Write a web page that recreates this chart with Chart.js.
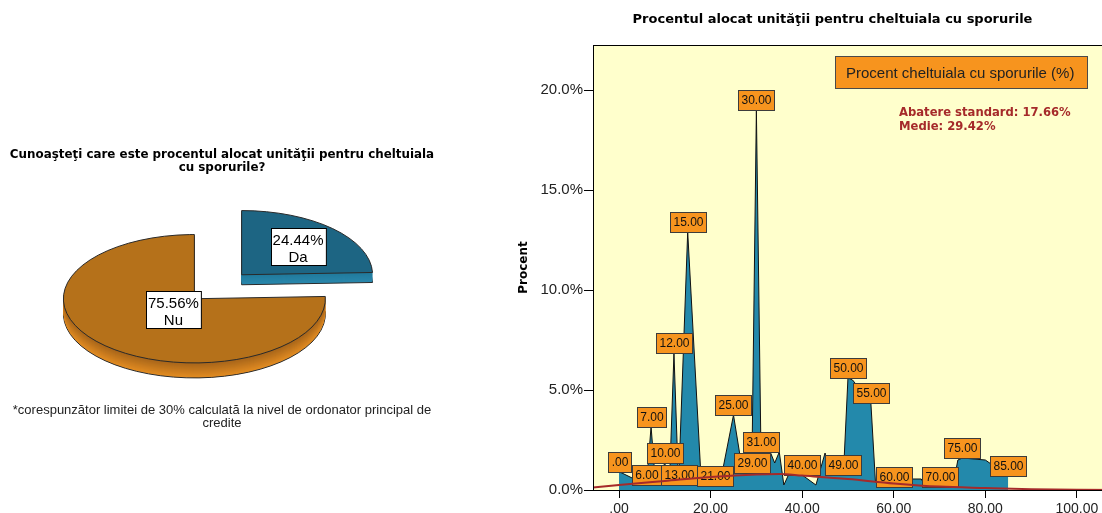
<!DOCTYPE html>
<html><head><meta charset="utf-8">
<script src="https://cdn.jsdelivr.net/npm/chart.js@4.4.1/dist/chart.umd.min.js"></script>
<style>
html,body{margin:0;padding:0;background:#fff;overflow:hidden;width:1102px;height:513px;position:relative;}
#pie{position:absolute;left:0;top:0;}
#area{position:absolute;left:460px;top:0;}
</style></head><body>
<canvas id="pie" width="445" height="513"></canvas>
<canvas id="area" width="745" height="530"></canvas>
<script>
// ---------- data ----------
const pieLabels = ['Da', 'Nu'];
const pieValues = [24.44, 75.56];

const areaX = [0, 6, 7, 8, 10, 11, 12, 13, 15, 18, 19, 20, 21, 22, 25, 27, 29, 30, 31, 33, 34, 35, 36, 39, 40, 43, 45, 46, 49, 50, 51, 55, 56, 60, 64, 66, 67, 70, 73, 74, 75, 80, 85];
const areaY = [0.92, 0.25, 3.17, 0.25, 1.35, 0.25, 6.83, 0.25, 12.9, 0.25, 0.95, 0.25, 0.2, 0.25, 3.75, 0.9, 0.83, 19.0, 1.92, 1.92, 1.35, 1.9, 0.25, 1.75, 0.75, 0.25, 1.85, 0.75, 0.75, 5.6, 5.5, 4.37, 0.4, 0.17, 0.55, 0.55, 0.17, 0.17, 0.3, 1.5, 1.6, 1.5, 0.7];
const labeledX = [0, 6, 7, 10, 12, 13, 15, 21, 25, 29, 30, 31, 40, 49, 50, 55, 60, 70, 75, 85];

const curveX = [-6, 0, 10, 20, 30, 35, 40, 50, 60, 70, 80, 90, 100, 110, 128];
const curveY = [0.12, 0.25, 0.45, 0.65, 0.78, 0.8, 0.72, 0.55, 0.33, 0.17, 0.1, 0.04, 0.01, 0, 0];

const xTicks = [0, 20, 40, 60, 80, 100, 120];
const yTicks = [0, 5, 10, 15, 20];

const seriesName = 'Procent cheltuiala cu sporurile (%)';
const statLines = ['Abatere standard: 17.66%', 'Medie: 29.42%'];
const pieTitle = ['Cunoaşteţi care este procentul alocat unităţii pentru cheltuiala', 'cu sporurile?'];
const pieNote = ['*corespunzător limitei de 30% calculată la nivel de ordonator principal de', 'credite'];
const areaTitle = 'Procentul alocat unităţii pentru cheltuiala cu sporurile';

// ---------- helpers ----------
const FONT = '"Liberation Sans", Arial, Helvetica, sans-serif';
const BOLDFONT = '"DejaVu Sans", Verdana, sans-serif';
Chart.defaults.font.family = FONT;
Chart.defaults.color = '#222';

function mix(a, b, t) {
  const pa = parseInt(a.slice(1), 16), pb = parseInt(b.slice(1), 16);
  const ch = (p, s) => (p >> s) & 255;
  const r = Math.round(ch(pa,16) + (ch(pb,16) - ch(pa,16)) * t);
  const g = Math.round(ch(pa,8) + (ch(pb,8) - ch(pa,8)) * t);
  const bl = Math.round(ch(pa,0) + (ch(pb,0) - ch(pa,0)) * t);
  return `rgb(${r},${g},${bl})`;
}

// ---------- 3D exploded pie ----------
const pie3d = {
  id: 'pie3d',
  _geo(chart, opts) {
    const meta = chart.getDatasetMeta(0);
    const k = opts.squash;
    return meta.data.map((el, i) => {
      const mid = (el.startAngle + el.endAngle) / 2;
      const off = opts.explode[i];
      return { el, i, mid, k,
        ax: el.x + opts.shiftX + Math.cos(mid) * off, ay: el.y + Math.sin(mid) * off * k,
        r: el.outerRadius, ry: el.outerRadius * k, s: el.startAngle, e: el.endAngle };
    });
  },
  beforeDatasetsDraw(chart, args, opts) {
    const ctx = chart.ctx;
    const geo = this._geo(chart, opts);
    const path = (g, dy) => {
      ctx.beginPath();
      ctx.moveTo(g.ax, g.ay + dy);
      ctx.ellipse(g.ax, g.ay + dy, g.r, g.ry, 0, g.s, g.e);
      ctx.closePath();
    };
    ctx.save();
    geo.forEach((g) => {
      const depth = opts.depth[g.i];
      const [c0, c1] = opts.sideColors[g.i];
      path(g, depth);
      ctx.fillStyle = c1; ctx.fill();
      ctx.strokeStyle = opts.edge; ctx.lineWidth = 1; ctx.stroke();
      for (let d = depth - 1; d >= 1; d--) {
        path(g, d);
        ctx.fillStyle = mix(c0, c1, (d - 1) / Math.max(1, depth - 1));
        ctx.fill();
      }
      path(g, 0);
      ctx.fillStyle = g.el.options.backgroundColor; ctx.fill();
      ctx.strokeStyle = opts.edge; ctx.lineWidth = 1; ctx.stroke();
    });
    ctx.restore();
    return false;
  },
  afterDraw(chart, args, opts) {
    const ctx = chart.ctx;
    const geo = this._geo(chart, opts);
    const ds = chart.data.datasets[0];
    ctx.save();
    ctx.font = '15px ' + FONT;
    geo.forEach((g) => {
      const f = opts.labelRadius[g.i] * g.r;
      const cx = g.ax + Math.cos(g.mid) * f;
      const cy = g.ay + Math.sin(g.mid) * f * g.k;
      const lines = [ds.data[g.i].toFixed(2) + '%', chart.data.labels[g.i]];
      const w = Math.max(...lines.map(t => ctx.measureText(t).width)) + 4;
      const h = 37;
      const l = Math.round(cx - w / 2) + 0.5, t = Math.round(cy - h / 2) + 0.5;
      ctx.fillStyle = '#fff'; ctx.fillRect(l, t, w, h);
      ctx.strokeStyle = '#000'; ctx.lineWidth = 1; ctx.strokeRect(l, t, w, h);
      ctx.fillStyle = '#000'; ctx.textAlign = 'center'; ctx.textBaseline = 'middle';
      ctx.fillText(lines[0], cx, t + 12.5);
      ctx.fillText(lines[1], cx, t + 29);
    });
    ctx.restore();
  }
};

new Chart(document.getElementById('pie'), {
  type: 'pie',
  data: {
    labels: pieLabels,
    datasets: [{ data: pieValues, backgroundColor: ['#1d6583', '#b5711a'], borderWidth: 0, radius: 131 }]
  },
  options: {
    responsive: false, animation: false, events: [],
    layout: { padding: { left: 0, right: 1 } },
    plugins: {
      legend: { display: false }, tooltip: { enabled: false },
      title: { display: true, text: pieTitle, color: '#000',
        font: { family: BOLDFONT, size: 11.9, weight: 'bold', lineHeight: 1.1 }, padding: { top: 148, bottom: 6 } },
      subtitle: { display: true, position: 'bottom', text: pieNote, color: '#222',
        font: { size: 13, lineHeight: 1.0 }, padding: { top: 10.7, bottom: 83 } },
      pie3d: {
        squash: 0.49, explode: [34, 34], depth: [10, 15], shiftX: -4,
        sideColors: [['#217a9c', '#2a88ad'], ['#a9661a', '#e28c22']],
        edge: '#2a2a2a', labelRadius: [0.62, 0.23]
      }
    }
  },
  plugins: [pie3d]
});

// ---------- area chart ----------
const plotFrame = {
  id: 'plotFrame',
  beforeDraw(chart, args, opts) {
    const { ctx, chartArea: a } = chart;
    ctx.save(); ctx.fillStyle = opts.bg; ctx.fillRect(a.left, a.top, a.right - a.left, a.bottom - a.top); ctx.restore();
  },
  afterDraw(chart) {
    const { ctx, chartArea: a } = chart;
    ctx.save(); ctx.strokeStyle = '#000'; ctx.lineWidth = 1;
    ctx.strokeRect(Math.round(a.left) + 0.5, Math.round(a.top) + 0.5, a.right - a.left, a.bottom - a.top);
    ctx.restore();
  }
};

const valueLabels = {
  id: 'valueLabels',
  afterDatasetDraw(chart, args, opts) {
    if (args.index !== 1) return;
    const ctx = chart.ctx;
    const pts = args.meta.data;
    ctx.save();
    ctx.font = '12px ' + FONT;
    labeledX.forEach(v => {
      const i = areaX.indexOf(v);
      if (i < 0) return;
      const p = pts[i];
      const text = v === 0 ? '.00' : v.toFixed(2);
      const w = Math.round(ctx.measureText(text).width + 6), h = 20;
      const l = Math.round(p.x - w / 2) + 0.5, t = Math.round(p.y - h) + 0.5;
      ctx.fillStyle = '#f7941e'; ctx.fillRect(l, t, w, h);
      ctx.strokeStyle = '#3c3c3c'; ctx.lineWidth = 1; ctx.strokeRect(l, t, w, h);
      ctx.fillStyle = '#111'; ctx.textAlign = 'center'; ctx.textBaseline = 'middle';
      ctx.fillText(text, l + w / 2, t + h / 2 + 0.5);
    });
    ctx.restore();
  },
  afterDatasetsDraw(chart, args, opts) {
    const { ctx, chartArea: a } = chart;
    ctx.save();
    // legend box
    const lx = a.left + 242.5, ly = a.top + 11.5, lw = 252, lh = 32;
    ctx.fillStyle = '#f7941e'; ctx.fillRect(lx, ly, lw, lh);
    ctx.strokeStyle = '#4a4a4a'; ctx.lineWidth = 1; ctx.strokeRect(lx, ly, lw, lh);
    ctx.fillStyle = '#222'; ctx.font = '15px ' + FONT; ctx.textAlign = 'left'; ctx.textBaseline = 'middle';
    ctx.fillText(chart.data.datasets[1].label, lx + 10.5, ly + lh / 2 + 1);
    // stats
    ctx.fillStyle = '#a52a2a'; ctx.font = 'bold 11.6px ' + BOLDFONT;
    ctx.fillText(statLines[0], a.left + 306, a.top + 68);
    ctx.fillText(statLines[1], a.left + 306, a.top + 82);
    ctx.restore();
  }
};

new Chart(document.getElementById('area'), {
  type: 'line',
  data: {
    datasets: [
      { label: 'Normal', data: curveX.map((x, i) => ({ x, y: curveY[i] })),
        borderColor: '#a52a2a', borderWidth: 2, pointRadius: 0, fill: false,
        cubicInterpolationMode: 'monotone', order: 1 },
      { label: seriesName, data: areaX.map((x, i) => ({ x, y: areaY[i] })),
        borderColor: '#111', borderWidth: 1, backgroundColor: '#2389ab', fill: 'origin',
        pointRadius: 0, tension: 0, order: 2 }
    ]
  },
  options: {
    responsive: false, animation: false, events: [],
    layout: { padding: 0 },
    scales: {
      x: {
        type: 'linear', min: -5.68, max: 127.97,
        afterBuildTicks: s => { s.ticks = xTicks.map(v => ({ value: v })); },
        afterFit: s => { s.height = 40; },
        ticks: { callback: v => v === 0 ? '.00' : Number(v).toFixed(2), font: { size: 14 }, color: '#222',
          padding: 3, maxRotation: 0, autoSkip: false },
        grid: { display: true, drawOnChartArea: false, tickLength: 8, color: '#000' },
        border: { display: true, color: '#000', z: 1 }
      },
      y: {
        type: 'linear', min: 0, max: 22.25,
        afterBuildTicks: s => { s.ticks = yTicks.map(v => ({ value: v })); },
        afterFit: s => { s.width = 133; },
        ticks: { callback: v => Number(v).toFixed(1) + '%', font: { size: 15 }, color: '#222', padding: 1 },
        grid: { display: true, drawOnChartArea: false, tickLength: 9, color: '#000' },
        border: { display: true, color: '#000', z: 1 },
        title: { display: true, text: 'Procent', color: '#000', font: { family: BOLDFONT, size: 12, weight: 'bold' },
          padding: { top: 56.5, bottom: 0 } }
      }
    },
    plugins: {
      legend: { display: false }, tooltip: { enabled: false },
      title: { display: true, text: areaTitle, color: '#000',
        font: { family: BOLDFONT, size: 13, weight: 'bold', lineHeight: 1.2 },
        padding: { top: 12.2, bottom: 17.2 } },
      plotFrame: { bg: '#ffffcc' }
    }
  },
  plugins: [plotFrame, valueLabels]
});
</script>
</body></html>
